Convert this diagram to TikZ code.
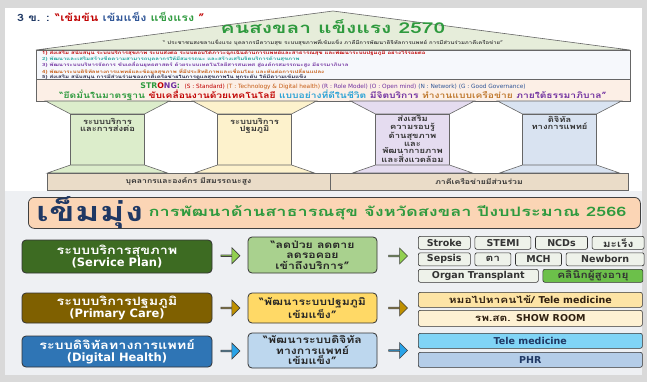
\documentclass[tikz,border=0pt]{standalone}
\usepackage{fontspec}
\newfontfamily\thai[Script=Thai, FakeStretch=1.25]{Loma}
\newfontfamily\thaiwide[Script=Thai, FakeStretch=1.4]{Loma}
\newfontfamily\lat{DejaVu Sans}
\usetikzlibrary{positioning, shapes.arrows, calc}

\definecolor{framegray}{HTML}{D9D9D9}
\definecolor{lowgray}{HTML}{EEF0F3}
\definecolor{roofgreen}{HTML}{E6EDDA}
\definecolor{visiongreen}{HTML}{2E9A3E}
\definecolor{titleblue}{HTML}{2F5597}
\definecolor{friezefill}{HTML}{F6F8FC}
\definecolor{bandpeach}{HTML}{FCEFE6}
\definecolor{pgreen}{HTML}{DCEDCB}
\definecolor{pyellow}{HTML}{FDF2CC}
\definecolor{ppurple}{HTML}{E5DCF0}
\definecolor{pblue}{HTML}{D9E3F1}
\definecolor{slabtan}{HTML}{EADCC8}
\definecolor{bannerpeach}{HTML}{FBD5B5}
\definecolor{navy}{HTML}{1F3864}
\definecolor{spdark}{HTML}{3D6B22}
\definecolor{pcolive}{HTML}{7F6000}
\definecolor{dhblue}{HTML}{2F75B5}
\definecolor{spgoal}{HTML}{A9D18E}
\definecolor{pcgoal}{HTML}{FFD966}
\definecolor{dhgoal}{HTML}{BDD7EE}
\definecolor{sparrow}{HTML}{92D050}
\definecolor{pcarrow}{HTML}{BF9000}
\definecolor{dharrow}{HTML}{29A3E8}
\definecolor{chipgray}{HTML}{EEF2EA}
\definecolor{chipgreen}{HTML}{6CC04A}
\definecolor{pcchipA}{HTML}{FDE4A5}
\definecolor{pcchipB}{HTML}{FEF1D3}
\definecolor{dhchipA}{HTML}{80D4F6}
\definecolor{dhchipB}{HTML}{B4CDE8}
\definecolor{mred}{HTML}{C00000}
\definecolor{mteal}{HTML}{1AA39A}
\definecolor{mpurple}{HTML}{7030A0}
\definecolor{morange}{HTML}{C55A11}
\definecolor{mdark}{HTML}{202040}
\definecolor{qsky}{HTML}{2AA2D6}
\definecolor{qbrown}{HTML}{C07A30}

\newcommand{\fsz}[2]{\fontsize{#1}{#2}\selectfont}
\newcommand{\en}[1]{{\lat\bfseries #1}}

\begin{document}
\begin{tikzpicture}
  [x=1pt, y=-1pt, every node/.style={font=\thai\bfseries, inner sep=0pt},
   edgeline/.style={draw=black!60, line width=0.6pt},
   pillartext/.style={font=\thai\bfseries\fsz{7.5}{7.6}, text=black!80, align=center, anchor=north},
   planbox/.style={draw=black!80, line width=0.8pt, rounded corners=4pt, text=white, align=center,
     minimum width=190, font=\thai\bfseries\fsz{11.5}{12.5}},
   goalbox/.style={draw=black!80, line width=0.8pt, rounded corners=4pt, align=center,
     minimum width=129, text=black!85, font=\thai\bfseries\fsz{9.8}{10.5}},
   chip/.style={draw=black!80, line width=0.6pt, rounded corners=2pt, minimum height=13,
     text=black!80, font=\thai\bfseries\fsz{9.5}{10}, anchor=north west},
   blockarrow/.style={single arrow, draw=black!75, line width=0.6pt, minimum height=19,
     minimum width=16, single arrow head extend=3pt}]
  \useasboundingbox (0,0) rectangle (647,382);
  \fill[framegray] (0,0) rectangle (647,382);
  \fill[white] (5,8) rectangle (642,375);
  \fill[lowgray] (5,191) rectangle (642,375);

  \node[anchor=west, font=\thai\bfseries\fsz{10}{11}, text=navy] (head) at (17,17)
    {3 ข. : \textcolor{mred}{“เข้มข้น} \textcolor{titleblue}{เข้มแข็ง} \textcolor{visiongreen}{แข็งแรง} \textcolor{mred}{”}};

  % roof, frieze and band
  \filldraw[fill=roofgreen, edgeline] (36,50) -- (333,11) -- (630,50) -- cycle;
  \node[font=\thaiwide\bfseries\fsz{15}{16}, text=visiongreen] (vision) at (333,26.5) {คนสงขลา แข็งแรง 2570};
  \node[font=\thai\bfseries\fsz{4.8}{5.5}, text=black!75] (motto) at (333,43)
    {“ ประชาชนสงขลาแข็งแรง บุคลากรมีความสุข ระบบสุขภาพที่เข้มแข็ง ภาคีมีการพัฒนาดิจิทัลการแพทย์ การมีส่วนร่วมภาคีเครือข่าย”};
  \filldraw[fill=friezefill, edgeline] (36,50) rectangle (630,79);
  \node[anchor=north west, align=left, font=\thaiwide\bfseries\fsz{4.3}{5.15}] (mission) at (42,51)
    {\textcolor{mred}{1) ส่งเสริม สนับสนุน ระบบบริการสุขภาพ ระบบส่งต่อ ระบบตอบโต้ภาวะฉุกเฉินด้านการแพทย์และสาธารณสุข และพัฒนาระบบปฐมภูมิ อย่างไร้รอยต่อ}\\
     \textcolor{mteal}{2) พัฒนาและเสริมสร้างขีดความสามารถบุคลากรให้มีสมรรถนะ และสร้างเสริมจิตบริการด้านสุขภาพ}\\
     \textcolor{mpurple}{3) พัฒนาระบบบริหารจัดการ ขับเคลื่อนยุทธศาสตร์ ด้วยระบบเทคโนโลยีสารสนเทศ สู่องค์กรสมรรถนะสูง มีธรรมาภิบาล}\\
     \textcolor{morange}{4) พัฒนาระบบดิจิทัลทางการแพทย์และข้อมูลสุขภาพ ที่มีประสิทธิภาพและเชื่อมโยง และทันต่อการเปลี่ยนแปลง}\\
     \textcolor{mdark}{5) ส่งเสริม สนับสนุน การมีส่วนร่วมของภาคีเครือข่ายในการดูแลสุขภาพใน ทุกระดับ ให้มีความเข้มแข็ง}};
  \filldraw[fill=bandpeach, edgeline] (36,79) rectangle (630,101);
  \node[font=\lat\fsz{5.8}{6.5}] (strong) at (333,86.5)
    {{\bfseries\fsz{7.8}{8}\textcolor{visiongreen}{STR}\textcolor{mred}{O}\textcolor{mpurple}{NG}\textcolor{visiongreen}{ : }}
     \textcolor{mred}{(S : Standard)} \textcolor{morange}{(T : Technology \& Digital health)}
     \textcolor{mpurple}{(R : Role Model)} \textcolor{mpurple}{(O : Open mind)}
     \textcolor{titleblue}{(N : Network)} \textcolor{titleblue}{(G : Good Governance)}};
  \node[font=\thai\bfseries\fsz{8.2}{9}] (values) at (333,95)
    {\textcolor{visiongreen}{“ยึดมั่นในมาตรฐาน} \textcolor{mred}{ขับเคลื่อนงานด้วยเทคโนโลยี}
     \textcolor{qsky}{แบบอย่างที่ดีในชีวิต} \textcolor{mpurple}{มีจิตบริการ}
     \textcolor{qbrown}{ทำงานแบบเครือข่าย} \textcolor{mpurple}{ภายใต้ธรรมาภิบาล”}};

  % pillars
  \foreach \cx/\col in {107.5/pgreen, 254.5/pyellow, 412.5/ppurple, 559.5/pblue} {
    \filldraw[fill=\col, edgeline] (\cx-62,101) -- (\cx+62,101) -- (\cx+37,114) -- (\cx-37,114) -- cycle;
    \filldraw[fill=\col, edgeline] (\cx-37,114) rectangle (\cx+37,165);
    \filldraw[fill=\col, edgeline] (\cx-37,165) -- (\cx+37,165) -- (\cx+60,173) -- (\cx-60,173) -- cycle;
  }
  \filldraw[fill=slabtan, edgeline] (47,173) rectangle (330,190);
  \filldraw[fill=slabtan, edgeline] (330,173) rectangle (628,190);
  \node[pillartext] (p1) at (107.5,118) {ระบบบริการ\\และการส่งต่อ};
  \node[pillartext] (p2) at (254.5,118) {ระบบบริการ\\ปฐมภูมิ};
  \node[pillartext] (p3) at (412.5,115.5) {ส่งเสริม\\ความรอบรู้\\ด้านสุขภาพ\\และ\\พัฒนากายภาพ\\และสิ่งแวดล้อม};
  \node[pillartext] (p4) at (559.5,116) {ดิจิทัล\\ทางการแพทย์};
  \node[font=\thai\bfseries\fsz{6.9}{7}, text=black!80] (staff) at (188.5,181.5) {บุคลากรและองค์กร มีสมรรถนะสูง};
  \node[font=\thai\bfseries\fsz{6.9}{7}, text=black!80] (partners) at (479,181.5) {ภาคีเครือข่ายมีส่วนร่วม};

  % focus banner
  \node[draw=black!75, line width=0.8pt, fill=bannerpeach, rounded corners=6pt, minimum width=612,
    minimum height=31, anchor=north west] (banner) at (28,197) {};
  \node[anchor=west, text=navy, font=\thaiwide\bfseries\fsz{27}{28}] (focus) at (36,212.5) {เข็มมุ่ง};
  \node[right=5pt of focus, text=visiongreen, font=\thaiwide\bfseries\fsz{13}{14}] (focustext)
    {การพัฒนาด้านสาธารณสุข จังหวัดสงขลา ปีงบประมาณ 2566};

  % service plan
  \node[planbox, fill=spdark, minimum height=33] (sp) at (117,256.5) {ระบบบริการสุขภาพ\\\en{(Service Plan)}};
  \node[goalbox, fill=spgoal, minimum height=36] (spg) at (312.5,255) {“ลดป่วย ลดตาย\\ลดรอคอย\\เข้าถึงบริการ”};
  \coordinate (spchips) at (418,257);
  \node[blockarrow, fill=sparrow] (sparr) at ($(sp.east)!0.5!(spg.west)$) {};
  \node[blockarrow, fill=sparrow] (sparr2) at ($(spg.east)!0.5!(spchips)$) {};
  \node[chip, fill=chipgray, minimum width=52] (stroke) at (418,236) {\en{Stroke}};
  \node[chip, fill=chipgray, minimum width=56, right=4pt of stroke] (stemi) {\en{STEMI}};
  \node[chip, fill=chipgray, minimum width=52, right=4pt of stemi] (ncds) {\en{NCDs}};
  \node[chip, fill=chipgray, minimum width=52, right=4pt of ncds] (cancer) {มะเร็ง};
  \node[chip, fill=chipgray, minimum width=52] (sepsis) at (418,252.5) {\en{Sepsis}};
  \node[chip, fill=chipgray, minimum width=36, right=4pt of sepsis] (eye) {ตา};
  \node[chip, fill=chipgray, minimum width=46, right=4pt of eye] (mch) {\en{MCH}};
  \node[chip, fill=chipgray, minimum width=78, right=4pt of mch] (newborn) {\en{Newborn}};
  \node[chip, fill=chipgray, minimum width=120] (organ) at (418,269) {\en{Organ Transplant}};
  \node[chip, fill=chipgreen, minimum width=100, right=4pt of organ] (elderly) {คลินิกผู้สูงอายุ};

  % primary care
  \node[planbox, fill=pcolive, minimum height=30] (pc) at (117,308) {ระบบบริการปฐมภูมิ\\\en{(Primary Care)}};
  \node[goalbox, fill=pcgoal, minimum height=30] (pcg) at (312.5,308) {“พัฒนาระบบปฐมภูมิ\\เข้มแข็ง”};
  \coordinate (pcchips) at (418,308);
  \node[blockarrow, fill=pcarrow] (pcarr) at ($(pc.east)!0.5!(pcg.west)$) {};
  \node[blockarrow, fill=pcarrow] (pcarr2) at ($(pcg.east)!0.5!(pcchips)$) {};
  \node[chip, fill=pcchipA, minimum width=224, minimum height=15, text=black!75!brown] (homevisit) at (418,292) {หมอไปหาคนไข้/ \en{Tele medicine}};
  \node[chip, fill=pcchipB, minimum width=224, minimum height=16, text=black!75!brown] (showroom) at (418,310) {รพ.สต. \en{SHOW ROOM}};

  % digital health
  \node[planbox, fill=dhblue, minimum height=31] (dh) at (117,351.5) {ระบบดิจิทัลทางการแพทย์\\\en{(Digital Health)}};
  \node[goalbox, fill=dhgoal, minimum height=35] (dhg) at (312.5,350.5) {“พัฒนาระบบดิจิทัล\\ทางการแพทย์\\เข้มแข็ง”};
  \coordinate (dhchips) at (418,350.5);
  \node[blockarrow, fill=dharrow] (dharr) at ($(dh.east)!0.5!(dhg.west)$) {};
  \node[blockarrow, fill=dharrow] (dharr2) at ($(dhg.east)!0.5!(dhchips)$) {};
  \node[chip, fill=dhchipA, minimum width=224, minimum height=15, text=navy] (telemed) at (418,333) {\en{Tele medicine}};
  \node[chip, fill=dhchipB, minimum width=224, minimum height=15, text=navy] (phr) at (418,352) {\en{PHR}};
\end{tikzpicture}
\end{document}
